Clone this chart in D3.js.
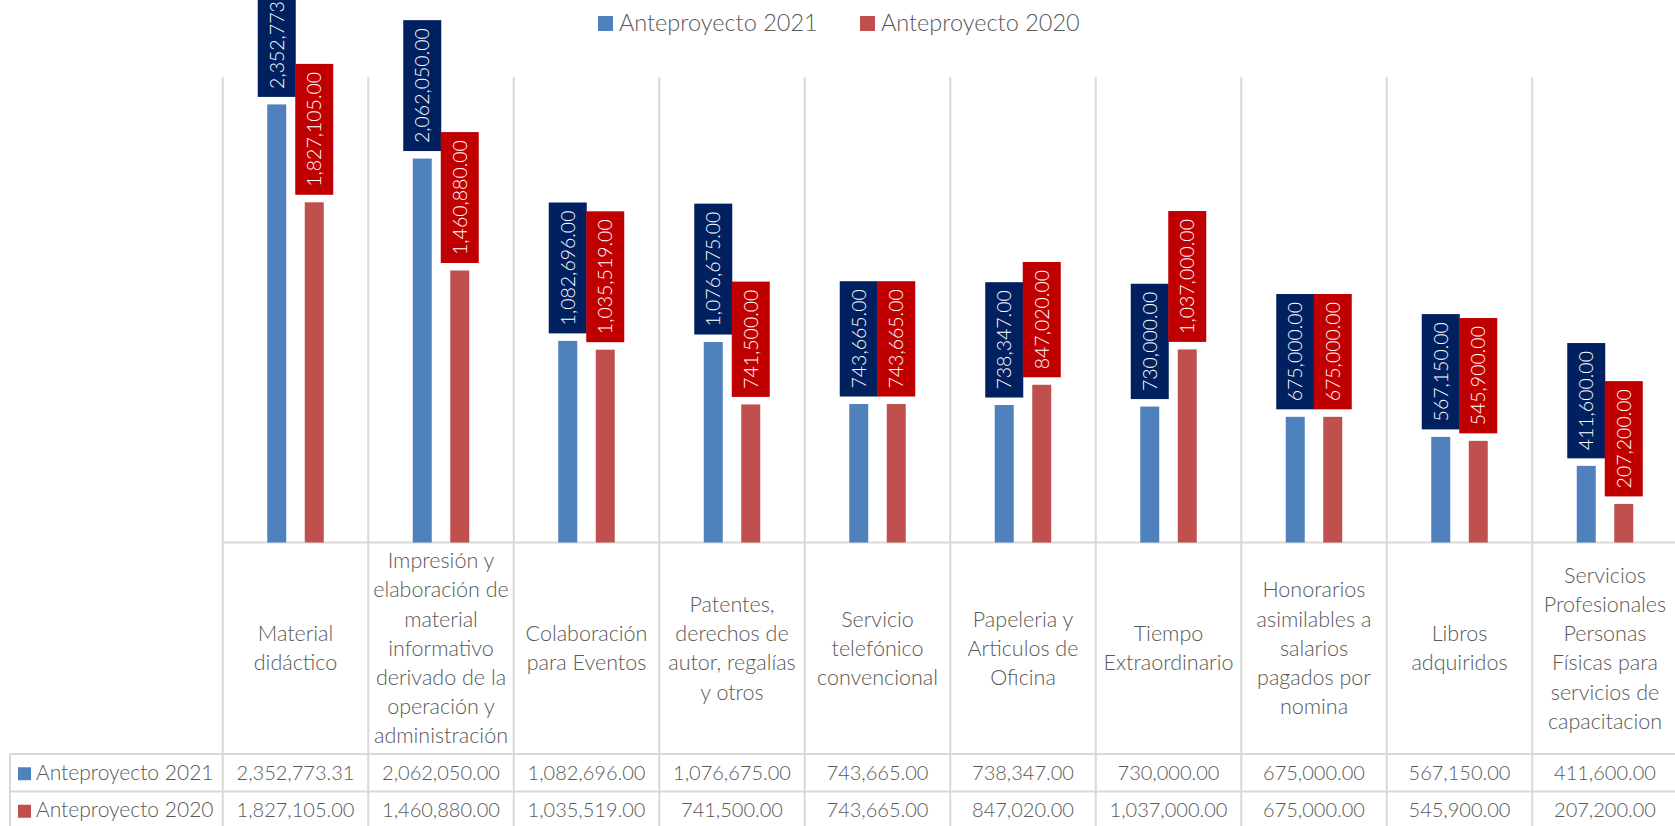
<!DOCTYPE html>
<html>
<head>
<meta charset="utf-8">
<script src="https://cdn.jsdelivr.net/npm/d3@7"></script>
<style>
  html, body { margin: 0; padding: 0; background: #fff; }
  svg { display: block; font-family: Lato, "Open Sans", sans-serif; font-weight: 300; }
</style>
</head>
<body>
<div id="chart"></div>
<script>
var categories = [
	'Material\ndidáctico',
	'Impresión y\nelaboración de\nmaterial\ninformativo\nderivado de la\noperación y\nadministración',
	'Colaboración\npara Eventos',
	'Patentes,\nderechos de\nautor, regalías\ny otros',
	'Servicio\ntelefónico\nconvencional',
	'Papeleria y\nArticulos de\nOficina',
	'Tiempo\nExtraordinario',
	'Honorarios\nasimilables a\nsalarios\npagados por\nnomina',
	'Libros\nadquiridos',
	'Servicios\nProfesionales\nPersonas\nFísicas para\nservicios de\ncapacitacion'
];
var series_names = ['Anteproyecto 2021', 'Anteproyecto 2020'];
var values_2021 = [2352773.31, 2062050, 1082696, 1076675, 743665, 738347, 730000, 675000, 567150, 411600];
var values_2020 = [1827105, 1460880, 1035519, 741500, 743665, 847020, 1037000, 675000, 545900, 207200];
var y_max = 2500000;

var width = 1675;
var height = 826;

var bar_colors = ['#4F81BD', '#C0504D'];
var label_colors = ['#002060', '#C00000'];
var grid_color = '#D9D9D9';
var text_color = '#595959';

var plot_left = 222.75;
var plot_top = 77;
var baseline = 542.5;
var col_width = 145.5;
var header_bottom = 754;
var row_h = 37.5;

var svg = d3.select('#chart')
			.append('svg')
			.attr('width', width)
			.attr('height', height);

// Scales
var x_scale = d3.scaleBand()
				.domain(d3.range(categories.length))
				.range([plot_left, plot_left + col_width * categories.length])
				.padding(0);
var x_sub = d3.scaleBand()
				.domain([0, 1])
				.range([-37.5, 37.5]);
var y_scale = d3.scaleLinear()
				.domain([0, y_max])
				.range([baseline, plot_top]);

var all_series = [values_2021, values_2020];

// Grid / table lines
var g_lines = svg.append('g')
	.attr('stroke', grid_color)
	.attr('stroke-width', 2);

d3.range(categories.length + 1).forEach(function(i){
	var x = plot_left + i * col_width;
	g_lines.append('line')
		.attr('x1', x).attr('x2', x)
		.attr('y1', plot_top).attr('y2', height);
});
g_lines.append('line')
	.attr('x1', plot_left).attr('x2', width)
	.attr('y1', baseline).attr('y2', baseline);
[header_bottom, header_bottom + row_h, header_bottom + 2 * row_h].forEach(function(y){
	g_lines.append('line')
		.attr('x1', 10).attr('x2', width)
		.attr('y1', y).attr('y2', y);
});
g_lines.append('line')
	.attr('x1', 10).attr('x2', 10)
	.attr('y1', header_bottom).attr('y2', height);

// Bars
all_series.forEach(function(vals, s){
	svg.append('g')
		.selectAll('rect')
		.data(vals)
		.enter()
		.append('rect')
		.attr('x', function(d, i){ return x_scale(i) + col_width / 2 + x_sub(s) + x_sub.bandwidth() / 2 - 9.5; })
		.attr('y', function(d){ return y_scale(d); })
		.attr('width', 19)
		.attr('height', function(d){ return baseline - y_scale(d); })
		.attr('fill', bar_colors[s]);
});

// Data labels (box sized to the text, like Excel)
var fmt = d3.format(',.2f');
all_series.forEach(function(vals, s){
	var g = svg.append('g').selectAll('g')
		.data(vals)
		.enter()
		.append('g')
		.attr('transform', function(d, i){
			var cx = x_scale(i) + col_width / 2 + x_sub(s) + x_sub.bandwidth() / 2;
			var bottom = y_scale(d) - 7.5;
			return 'translate(' + cx + ',' + bottom + ')';
		});
	g.append('rect')
		.attr('x', -19)
		.attr('width', 38)
		.attr('fill', label_colors[s]);
	var texts = g.append('text')
		.attr('text-anchor', 'middle')
		.attr('fill', '#fff')
		.style('font-size', '19.5px')
		.text(function(d){ return fmt(d); });
	texts.each(function(){
		var len = this.getComputedTextLength();
		var h = len + 16;
		d3.select(this).attr('transform', 'translate(7,' + (-h / 2) + ') rotate(-90)');
		d3.select(this.parentNode).select('rect')
			.attr('y', -h)
			.attr('height', h);
	});
});

// Category labels
var lh = 29.2;
svg.append('g').selectAll('text')
	.data(categories)
	.enter()
	.append('text')
	.attr('text-anchor', 'middle')
	.attr('fill', text_color)
	.style('font-size', '21.5px')
	.each(function(d, i){
		var lines = d.split('\n');
		var cx = x_scale(i) + col_width / 2;
		var cy = (baseline + header_bottom) / 2;
		var y0 = cy - (lines.length - 1) * lh / 2 + 7.5;
		d3.select(this).selectAll('tspan')
			.data(lines)
			.enter()
			.append('tspan')
			.attr('x', cx)
			.attr('y', function(l, j){ return y0 + j * lh; })
			.text(function(l){ return l; });
	});

// Table rows
all_series.forEach(function(vals, s){
	var ty = header_bottom + s * row_h + row_h / 2 + 7;
	svg.append('rect')
		.attr('x', 18).attr('y', ty - 12.5)
		.attr('width', 13).attr('height', 13)
		.attr('fill', bar_colors[s]);
	svg.append('text')
		.attr('x', 36).attr('y', ty)
		.attr('fill', text_color)
		.style('font-size', '21px')
		.text(series_names[s]);
	svg.append('g').selectAll('text')
		.data(vals)
		.enter()
		.append('text')
		.attr('x', function(d, i){ return x_scale(i) + col_width / 2; })
		.attr('y', ty)
		.attr('text-anchor', 'middle')
		.attr('fill', text_color)
		.style('font-size', '20px')
		.text(function(d){ return fmt(d); });
});

// Legend
var legend_x = [598, 860];
series_names.forEach(function(name, s){
	svg.append('rect')
		.attr('x', legend_x[s]).attr('y', 16)
		.attr('width', 15).attr('height', 15)
		.attr('fill', bar_colors[s]);
	svg.append('text')
		.attr('x', legend_x[s] + 21).attr('y', 31)
		.attr('fill', text_color)
		.style('font-size', '23.5px')
		.text(name);
});
</script>
</body>
</html>
